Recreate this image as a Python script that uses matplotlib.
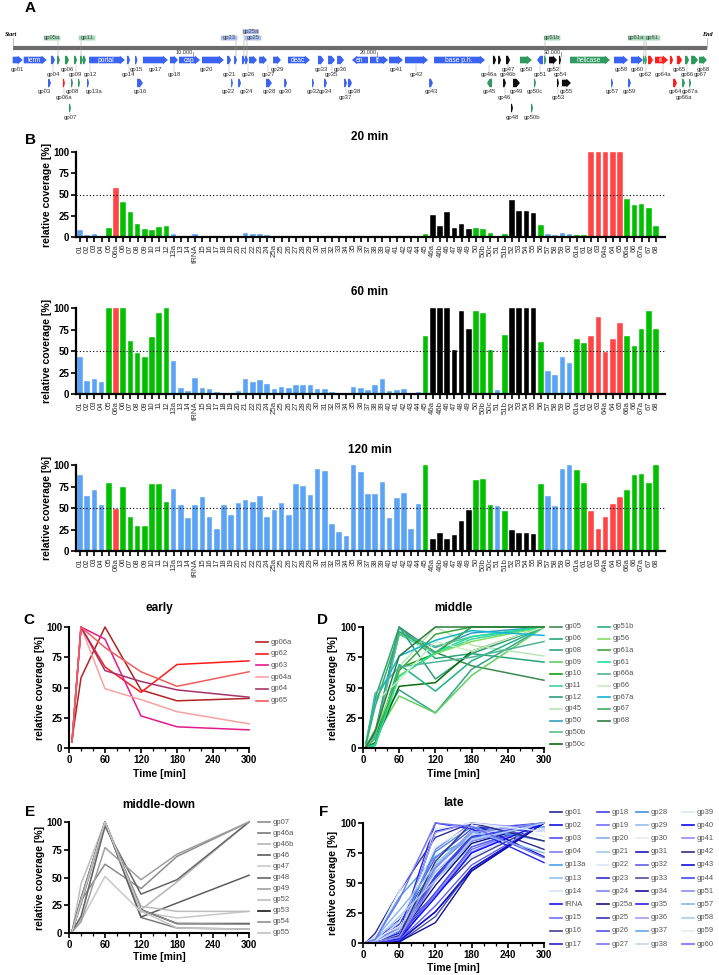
import numpy as np
import matplotlib.pyplot as plt
from matplotlib.patches import Polygon, FancyBboxPatch
from matplotlib.lines import Line2D

plt.rcParams['font.family'] = ['Liberation Sans', 'DejaVu Sans']

W, H = 719, 975

# ---------------- data ----------------
# genome map: (name, start kb, end kb, group, strand, label mode)
genes_row0 = [
    ('gp01', 0.20, 0.75, 'L', 1, 'a'), ('term', 0.80, 2.05, 'L', 1, 'in'),
    ('gp04', 2.28, 2.50, 'L', 1, 'b'), ('gp05a', 2.61, 2.77, 'M', 1, 'up'),
    ('gp06', 3.04, 3.26, 'M', 1, 'a'), ('gp09', 3.53, 3.70, 'M', 1, 'b'),
    ('gp11', 3.86, 4.02, 'M', 1, 'up'), ('gp12', 4.02, 4.18, 'M', 1, 'b'),
    ('portal', 4.35, 6.30, 'L', 1, 'in'), ('gp14', 6.41, 6.58, 'L', 1, 'b'),
    ('gp15', 6.85, 6.98, 'L', 1, 'a'), ('gp17', 7.28, 8.64, 'L', 1, 'a'),
    ('gp18', 8.75, 9.18, 'L', 1, 'b'), ('cap', 9.24, 10.38, 'L', 1, 'in'),
    ('gp20', 10.49, 11.68, 'L', 1, 'a'), ('gp21', 11.85, 12.07, 'L', 1, 'b'),
    ('gp23', 12.23, 12.39, 'L', 1, 'up'), ('gp25a', 12.66, 12.83, 'L', 1, 'up2'),
    ('gp25', 12.83, 12.99, 'L', 1, 'up'), ('gp26', 13.04, 13.48, 'L', 1, 'b'),
    ('gp27', 13.59, 14.02, 'L', 1, 'b'), ('gp29', 14.35, 14.78, 'L', 1, 'a'),
    ('deac', 15.16, 16.36, 'L', 1, 'in'), ('gp33', 16.79, 17.12, 'L', 1, 'a'),
    ('gp35', 17.34, 17.72, 'L', 1, 'b'), ('gp36', 17.83, 18.21, 'L', 1, 'a'),
    ('en', 18.64, 19.51, 'L', -1, 'in'), ('tf', 19.62, 20.60, 'L', 1, 'in'),
    ('gp41', 20.65, 21.41, 'L', 1, 'a'), ('gp42', 21.52, 22.77, 'L', 1, 'b'),
    ('base p.h.', 23.10, 25.87, 'L', 1, 'in'), ('gp46a', 26.30, 26.47, 'D', 1, 'b'),
    ('gp46b', 26.58, 26.74, 'D', 1, 'b'), ('gp47', 27.01, 27.23, 'D', 1, 'a'),
    ('gp50', 27.77, 28.42, 'M', 1, 'a'), ('gp51', 28.70, 29.02, 'L', -1, 'b'),
    ('gp51b', 29.08, 29.20, 'M', 1, 'up'), ('gp52', 29.35, 29.78, 'D', 1, 'a'),
    ('gp54', 29.89, 30.00, 'D', 1, 'b'), ('helicase', 30.49, 32.66, 'M', 1, 'in'),
    ('gp58', 32.88, 33.64, 'L', 1, 'a'), ('gp60', 33.80, 34.46, 'L', 1, 'a'),
    ('gp61a', 34.46, 34.57, 'M', 1, 'up'), ('gp61', 34.57, 34.67, 'M', 1, 'up'),
    ('gp62', 34.73, 35.00, 'E', 1, 'b'), ('rl', 35.11, 35.82, 'E', 1, 'in'),
    ('gp64a', 35.92, 36.09, 'E', 1, 'b'), ('gp65', 36.30, 36.58, 'E', 1, 'a'),
    ('gp66', 36.74, 36.96, 'M', 1, 'b'), ('gp67', 37.07, 37.45, 'M', 1, 'b'),
    ('gp68', 37.50, 37.93, 'M', 1, 'a'),
]
genes_row1 = [
    ('gp03', 2.12, 2.28, 'L', 1, 'a'), ('gp06a', 2.93, 3.04, 'E', 1, 'b'),
    ('gp08', 3.37, 3.48, 'M', 1, 'a'), ('gp10', 3.75, 3.86, 'M', 1, ''),
    ('gp13a', 4.24, 4.35, 'L', 1, 'a'), ('gp16', 6.96, 7.28, 'L', 1, 'a'),
    ('gp22', 12.07, 12.17, 'L', 1, 'a'), ('gp24', 12.45, 12.61, 'L', 1, 'a'),
    ('gp28', 13.97, 14.29, 'L', 1, 'a'), ('gp30', 14.95, 15.11, 'L', 1, 'a'),
    ('gp32', 16.47, 16.58, 'L', 1, 'a'), ('gp34', 17.12, 17.28, 'L', 1, 'a'),
    ('gp37', 18.21, 18.37, 'L', 1, 'b'), ('gp38', 18.42, 18.64, 'L', 1, 'a'),
    ('gp43', 22.83, 23.04, 'L', 1, 'a'), ('gp45', 25.98, 26.25, 'M', -1, 'a'),
    ('gp46', 26.85, 27.01, 'D', 1, 'b'), ('gp49', 27.39, 27.77, 'D', 1, 'a'),
    ('gp50c', 28.53, 28.64, 'M', 1, 'a'), ('gp53', 29.78, 29.89, 'D', 1, 'b'),
    ('gp55', 30.05, 30.54, 'D', 1, 'a'), ('gp57', 32.72, 32.83, 'L', 1, 'a'),
    ('gp59', 33.64, 33.80, 'L', 1, 'a'), ('gp64', 36.09, 36.30, 'E', 1, 'a'),
    ('gp66a', 36.58, 36.74, 'M', 1, 'b'), ('gp67a', 36.96, 37.07, 'M', 1, 'a'),
]
genes_row2 = [
    ('gp07', 3.26, 3.37, 'M', 1, 'a'), ('gp48', 27.28, 27.39, 'D', 1, 'a'),
    ('gp50b', 28.37, 28.48, 'M', 1, 'a'),
]
scale_marks = [10, 20, 30]

# bar charts
bar_labels = ['01', '02', '03', '04', '05', '06a', '06', '07', '08', '09', '10', '11', '12',
              '13a', '13', '14', 'tRNA', '15', '16', '17', '18', '19', '20', '21', '22', '23',
              '24', '25a', '25', '26', '27', '28', '29', '30', '31', '32', '33', '34', '35',
              '36', '37', '38', '39', '40', '41', '42', '43', '44', '45', '46a', '46b', '46',
              '47', '48', '49', '50', '50b', '50c', '51', '51b', '52', '53', '54', '55', '56',
              '57', '58', '59', '60', '61a', '61', '62', '63', '64a', '64', '65', '66a', '66',
              '67a', '67', '68']
# L = late, M = middle, E = early, D = middle-down (same order as bar_labels)
bar_groups = ['L', 'L', 'L', 'L', 'M', 'E', 'M', 'M', 'M', 'M', 'M', 'M', 'M',
              'L', 'L', 'L', 'L', 'L', 'L', 'L', 'L', 'L', 'L', 'L', 'L', 'L',
              'L', 'L', 'L', 'L', 'L', 'L', 'L', 'L', 'L', 'L', 'L', 'L', 'L',
              'L', 'L', 'L', 'L', 'L', 'L', 'L', 'L', 'L', 'M', 'D', 'D', 'D',
              'D', 'D', 'D', 'M', 'M', 'M', 'L', 'M', 'D', 'D', 'D', 'D', 'M',
              'L', 'L', 'L', 'L', 'M', 'M', 'E', 'E', 'E', 'E', 'E', 'M', 'M',
              'M', 'M', 'M']
v20 = [8, 2, 3.5, 1.5, 11, 58, 41, 29, 15, 9, 8, 11.5, 13,
       4, 0, 0, 3, 0, 0, 0, 0, 0, 0, 5, 3.5, 4,
       2, 0.5, 0.3, 1, 1, 1, 1, 0, 0, 0, 0, 0, 0,
       0, 0, 0.5, 1.5, 0, 0, 0.5, 0, 0, 3.5, 26, 13, 29,
       11, 15, 10, 10.5, 9, 4.5, 1, 3.5, 44, 31, 31, 28, 14,
       4, 2, 4.5, 3, 2, 2, 100, 100, 100, 100, 100, 45, 38,
       39, 34, 13.5]
v60 = [43, 15, 18, 14, 100, 100, 100, 62, 48, 43, 66, 94, 100,
       38, 7, 3, 19, 7, 6, 2, 1, 1, 4, 18, 14, 16,
       12, 6, 8.5, 7, 10, 10, 11, 6, 6, 2, 0.5, 1, 8,
       7, 5, 11, 17, 3.5, 5, 6, 1.5, 2.5, 67, 100, 100, 100,
       51, 96, 76, 96, 94, 51, 5, 69, 100, 100, 100, 100, 60,
       27, 22, 43, 36, 64, 59, 67, 90, 49, 64, 83, 67, 56,
       76, 96, 76]
v120 = [88, 64, 71, 54, 79, 49, 74, 40, 29, 29, 78, 78, 57,
        72, 53, 38, 54, 63, 40, 26, 54, 42, 56, 59, 57, 64,
        40, 48, 56, 42, 78, 76, 65, 95, 93, 31, 22, 17, 100,
        92, 66, 66, 80, 38, 62, 68, 26, 55, 100, 14, 21, 14,
        19, 35, 48, 83, 84, 54, 52, 47, 24, 21, 21, 20, 78,
        64, 52, 95, 100, 94, 79, 46, 26, 39, 55, 63, 71, 88,
        89, 79, 100]

# time courses
times = [5, 20, 60, 120, 180, 300]

early_names = ['gp06a', 'gp62', 'gp63', 'gp64a', 'gp64', 'gp65']
early_vals = [[7, 58, 100, 48, 39, 41], [5, 100, 67, 46, 69, 72],
              [5, 100, 90, 26.5, 17.5, 15], [5, 100, 49, 40, 30, 20],
              [5, 100, 64, 55, 48, 42], [5, 100, 83, 63, 51, 63]]

middle_names = ['gp05', 'gp06', 'gp08', 'gp09', 'gp10', 'gp11', 'gp12', 'gp45', 'gp50', 'gp50b',
                'gp50c', 'gp51b', 'gp56', 'gp61a', 'gp61', 'gp66a', 'gp66', 'gp67a', 'gp67', 'gp68']
middle_vals = [[2, 11, 100, 79, 68, 56], [4, 41, 100, 74, 78, 71], [1, 15, 48, 29, 65, 100],
               [1, 9, 43, 29, 60, 100], [1, 8, 66, 78, 100, 100], [1, 11.5, 94, 78, 90, 100],
               [2, 13, 100, 57, 78, 100], [0.5, 3.5, 67, 100, 85, 76], [1, 10.5, 96, 83, 95, 100],
               [1, 9, 94, 84, 92, 100], [0.5, 4.5, 51, 54, 80, 100], [0.5, 3.5, 69, 47, 72, 100],
               [2, 14, 60, 78, 88, 100], [0.5, 2, 64, 94, 100, 100], [0.5, 2, 59, 79, 92, 100],
               [4, 45, 67, 71, 75, 88], [3, 38, 56, 88, 80, 100], [4, 39, 76, 89, 97, 93],
               [3, 34, 96, 79, 100, 100], [1, 13.5, 76, 100, 100, 100]]

mdown_names = ['gp07', 'gp46a', 'gp46b', 'gp46', 'gp47', 'gp48', 'gp49', 'gp52', 'gp53', 'gp54', 'gp55']
mdown_vals = [[1, 29, 62, 40, 69, 100], [1, 26, 100, 14, 4.5, 3.5], [1, 13, 100, 21, 46, 100],
              [1, 29, 100, 14.4, 27, 52], [1, 11, 51, 19, 13.5, 19.5], [1, 15, 96, 35, 48, 100],
              [1, 10, 77, 48, 71, 100], [1, 44, 100, 24, 19.5, 19.5], [1, 31, 100, 21, 8.5, 8.5],
              [1, 31, 100, 21, 8.5, 8], [1, 28, 100, 20, 4.5, 3.5]]

late_names = ['gp01', 'gp02', 'gp03', 'gp04', 'gp13a', 'gp13', 'gp14', 'tRNA', 'gp15', 'gp16', 'gp17',
              'gp18', 'gp19', 'gp20', 'gp21', 'gp22', 'gp23', 'gp24', 'gp25a', 'gp25', 'gp26', 'gp27',
              'gp28', 'gp29', 'gp30', 'gp31', 'gp32', 'gp33', 'gp34', 'gp35', 'gp36', 'gp37', 'gp38',
              'gp39', 'gp40', 'gp41', 'gp42', 'gp43', 'gp44', 'gp51', 'gp57', 'gp58', 'gp59', 'gp60']
late_vals = [[0.5, 8, 43, 88, 100, 78], [0.5, 2, 15, 64, 90, 100], [0.5, 3.5, 18, 71, 95, 100],
             [0.5, 1.5, 14, 54, 85, 100], [0.5, 4, 38, 72, 88, 97], [0.5, 0, 7, 53, 80, 100],
             [0.5, 0, 3, 38, 72, 100], [0.5, 3, 19, 54, 88, 100], [0.5, 0, 7, 63, 92, 100],
             [0.5, 0, 6, 40, 70, 100], [0.5, 0, 2, 26, 60, 100], [0.5, 0, 1, 54, 85, 100],
             [0.5, 0, 1, 42, 78, 100], [0.5, 0, 4, 56, 90, 96], [0.5, 5, 18, 59, 87, 100],
             [0.5, 3.5, 14, 57, 82, 100], [0.5, 4, 16, 64, 93, 100], [0.5, 2, 12, 40, 76, 100],
             [0.5, 0.5, 6, 48, 83, 100], [0.5, 0.3, 8.5, 56, 89, 100], [0.5, 1, 7, 42, 80, 100],
             [0.5, 1, 10, 78, 100, 93], [0.5, 1, 10, 76, 97, 85], [0.5, 1, 11, 65, 90, 100],
             [0.5, 0, 6, 95, 100, 89], [0.5, 0, 6, 93, 100, 72], [0.5, 0, 2, 31, 65, 100],
             [0.5, 0, 0.5, 22, 62, 100], [0.5, 0, 1, 17, 60, 100], [0.5, 0, 8, 100, 95, 67],
             [0.5, 0, 7, 92, 100, 95], [0.5, 0, 5, 66, 92, 100], [0.5, 0.5, 11, 66, 90, 100],
             [0.5, 1.5, 17, 80, 98, 95], [0.5, 0, 3.5, 38, 75, 100], [0.5, 0, 5, 62, 92, 100],
             [0.5, 0.5, 6, 68, 100, 85], [0.5, 0, 1.5, 26, 62, 100], [0.5, 0, 2.5, 55, 88, 100],
             [0.5, 1, 5, 52, 85, 100], [0.5, 4, 27, 64, 93, 75], [0.5, 2, 22, 52, 86, 100],
             [0.5, 4.5, 43, 95, 100, 93], [0.5, 3, 36, 100, 97, 71]]

# ---------------- styles ----------------
bar_colors = {'L': '#5ba3f5', 'M': '#00c000', 'E': '#ff4545', 'D': '#000000'}
map_colors = {'L': '#3b63f2', 'M': '#2e9a5e', 'E': '#ff1c1c', 'D': '#0d0d0d'}
box_colors = {'L': '#aabff2', 'M': '#a3d9b8'}
early_colors = ['#b22222', '#ff1a1a', '#e6198a', '#f7a1a1', '#a8326e', '#f25c5c']
middle_colors = ['#3d8b4f', '#2aa57a', '#35a38a', '#5fd35f', '#12a112', '#3fd3a5', '#2e9e7e',
                 '#b9e6b5', '#2f9fc4', '#5cc08a', '#0a6e0a', '#1fb386', '#7fe05e', '#3ea53e',
                 '#1de0a0', '#4db594', '#c9ecc4', '#12b4d6', '#3fae5e', '#2c7a3e']
mdown_colors = ['#8c8c8c', '#7a7a7a', '#b5b5b5', '#5e5e5e', '#c8c8c8', '#666666', '#9f9f9f',
                '#bdbdbd', '#1a1a1a', '#8f8f8f', '#c4c4c4']
late_colors = ['#2b2b9a', '#1010e0', '#5050f0', '#8080f0', '#4aa0f0', '#90c0f0', '#d0e4f8',
               '#1515ff', '#7070ff', '#404090', '#2020e0', '#4040e8', '#7070ff', '#80b0f0',
               '#a0c8f0', '#d8e8f8', '#3030d0', '#8080f0', '#101080', '#3535c0', '#5050f0',
               '#7878ff', '#4090e0', '#90c0f0', '#e0ecf8', '#1818c8', '#6060f0', '#5050a0',
               '#1010a0', '#2525f0', '#a0a0f8', '#60a8e8', '#c0d8f5', '#dde8f8', '#0a0aff',
               '#9090f0', '#303080', '#1010d0', '#4545f0', '#8f8ff0', '#80b8f0', '#a8cff0',
               '#e0ecf8', '#7070f0']
label_shift = {'gp12': 0.3, 'gp20': -0.33, 'gp26': -0.27, 'gp27': 0.27, 'gp46a': -0.3,
               'gp46b': 0.45, 'gp62': -0.27, 'gp64a': -0.46, 'gp67': 0.3, 'gp03': -0.25,
               'gp13a': 0.33, 'gp22': -0.2, 'gp24': 0.35, 'gp38': 0.27}
box_shift = {'gp05a': -0.35, 'gp11': 0.3, 'gp23': -0.35, 'gp25a': 0.4, 'gp25': 0.35,
             'gp51b': 0.38, 'gp61a': -0.43, 'gp61': 0.33}

fig = plt.figure(figsize=(W / 100, H / 100), dpi=100)


def add_ax(x0, y0, x1, y1):
    return fig.add_axes([x0 / W, 1 - y1 / H, (x1 - x0) / W, (y1 - y0) / H])


def ftext(x, y, s, **kw):
    fig.text(x / W, 1 - y / H, s, **kw)


# ---------------- A: genome map ----------------
axa = add_ax(0, 0, W, 125)
axa.set_xlim(-9 / 18.4, (W - 9) / 18.4)
axa.set_ylim(125, 0)
axa.axis('off')
axa.plot([0.2, 37.95], [48, 48], color='#6b6b6b', lw=3, solid_capstyle='butt')
axa.plot([0.2, 0.2], [38, 48], color='#888888', lw=0.4)
axa.plot([37.95, 37.95], [38, 48], color='#888888', lw=0.4)
axa.text(0.1, 37.5, 'Start', fontsize=4.4, fontweight='bold', style='italic', ha='center',
         va='bottom', family='Liberation Serif')
axa.text(37.95, 37.5, 'End', fontsize=4.4, fontweight='bold', style='italic', ha='center',
         va='bottom', family='Liberation Serif')
for m in scale_marks:
    axa.text(m, 55.5, f'{m}.000', fontsize=4, ha='right', va='bottom', color='#333333')
    axa.plot([m, m], [52, 56], color='#555555', lw=0.4)

row_y = [60, 83, 108]
lab_y = [{'a': 69.5, 'b': 74.5}, {'a': 92, 'b': 98}, {'a': 117, 'b': 117}]

for r, row in enumerate([genes_row0, genes_row1, genes_row2]):
    y = row_y[r]
    for name, s, e, grp, d, tag in row:
        L = e - s
        hl = min(0.28, 0.5 * L)
        bh, hh = (3.3, 4.4) if L > 0.4 else (4.2, 4.2)
        if d > 0:
            pts = [(s, y - bh), (e - hl, y - bh), (e - hl, y - hh), (e, y),
                   (e - hl, y + hh), (e - hl, y + bh), (s, y + bh)]
        else:
            pts = [(e, y - bh), (s + hl, y - bh), (s + hl, y - hh), (s, y),
                   (s + hl, y + hh), (s + hl, y + bh), (e, y + bh)]
        axa.add_patch(Polygon(pts, closed=True, facecolor=map_colors[grp], edgecolor='none'))
        xc = (s + e) / 2
        if tag == 'in':
            axa.text(xc - 0.05, y + 0.3, name, fontsize=4.8, color='white', ha='center',
                     va='center')
        elif tag in ('a', 'b'):
            lx = xc + label_shift.get(name, 0)
            ly = lab_y[r][tag]
            axa.plot([lx, lx], [y + hh + 0.5, ly - 2.5], color='#9a9a9a', lw=0.3)
            axa.text(lx, ly, name, fontsize=4.3, color='#333333', ha='center', va='center')
        elif tag in ('up', 'up2'):
            by = 38 if tag == 'up' else 31.5
            bx = xc + box_shift.get(name, 0)
            axa.plot([xc, xc], [by + 2.5, y - hh], color='#9a9a9a', lw=0.35)
            axa.add_patch(FancyBboxPatch((bx - 0.45, by - 2.5), 0.9, 5.0,
                                         boxstyle='round,pad=0,rounding_size=0.15',
                                         facecolor=box_colors[grp], edgecolor='none'))
            axa.text(bx, by, name, fontsize=4.2, color='#4a4a4a', ha='center', va='center')

# ---------------- B: bar charts ----------------
bar_x = np.arange(len(bar_labels))
colors = [bar_colors[g] for g in bar_groups]
panels_b = [('20 min', v20, 152, 237, 137), ('60 min', v60, 308, 394, 292),
            ('120 min', v120, 465, 551, 450)]
for title, vals, top, bot, ty in panels_b:
    ax = add_ax(76, top, 665, bot)
    ax.bar(bar_x, vals, width=0.78, color=colors, edgecolor='white', linewidth=0.3, clip_on=False)
    ax.axhline(50, color='black', lw=0.8, ls=(0, (1, 2)))
    ax.set_xlim(-0.55, 81.25)
    ax.set_ylim(0, 100)
    ax.set_xticks(bar_x, bar_labels, rotation=90, fontsize=5.6, color='#333333')
    ax.set_yticks([0, 25, 50, 75, 100], ['0', '25', '50', '75', '100'], fontsize=7,
                  fontweight='bold')
    ax.tick_params(axis='x', length=3.5, width=1.2, pad=1.5)
    ax.tick_params(axis='y', length=3.5, width=1.2, pad=1.5)
    for s in ['top', 'right']:
        ax.spines[s].set_visible(False)
    for s in ['left', 'bottom']:
        ax.spines[s].set_linewidth(1.6)
    ftext(370, ty, title, fontsize=8.5, fontweight='bold', ha='center', va='center')
    ftext(47, (top + bot) / 2, 'relative coverage [%]', fontsize=7.5, fontweight='bold',
          rotation=90, ha='center', va='center')


# ---------------- C-F: time courses ----------------
def line_panel(box, names, cols, vals, title, title_y, xlab_y, ylab_x, leg_x, leg_y0, leg_dy,
               nrows, lw=1.1):
    x0, y0, x1, y1 = box
    ax = add_ax(x0, y0, x1, y1)
    for n, c, v in zip(names, cols, vals):
        ax.plot(times, v, color=c, lw=lw, clip_on=False)
    ax.set_xlim(0, 300)
    ax.set_ylim(0, 100)
    ax.set_xticks([0, 60, 120, 180, 240, 300], ['0', '60', '120', '180', '240', '300'],
                  fontsize=7, fontweight='bold')
    ax.set_xticks(np.arange(0, 301, 20), minor=True)
    ax.set_yticks([0, 25, 50, 75, 100], ['0', '25', '50', '75', '100'], fontsize=7,
                  fontweight='bold')
    ax.tick_params(which='major', length=3.5, width=1.2, pad=1.5)
    ax.tick_params(which='minor', length=2, width=0.9)
    for s in ['top', 'right']:
        ax.spines[s].set_visible(False)
    for s in ['left', 'bottom']:
        ax.spines[s].set_linewidth(1.5)
    ftext((x0 + x1) / 2, title_y, title, fontsize=8.5, fontweight='bold', ha='center',
          va='center')
    ftext((x0 + x1) / 2, xlab_y, 'Time [min]', fontsize=7.5, fontweight='bold', ha='center',
          va='center')
    ftext(ylab_x, (y0 + y1) / 2, 'relative coverage [%]', fontsize=7.5, fontweight='bold',
          rotation=90, ha='center', va='center')
    for k, (n, c) in enumerate(zip(names, cols)):
        col, row = divmod(k, nrows)
        lx = leg_x[col]
        ly = leg_y0 + row * leg_dy
        fig.add_artist(Line2D([lx / W, (lx + 12) / W], [1 - ly / H, 1 - ly / H], color=c,
                              lw=1.2))
        ftext(lx + 15, ly, n, fontsize=5.5, color='#555555', ha='left', va='center')


line_panel((69, 627, 249, 748), early_names, early_colors, early_vals, 'early', 608, 774, 40,
           [256], 642, 11.7, 6)
line_panel((363, 627, 544, 748), middle_names, middle_colors, middle_vals, 'middle', 608, 774,
           333, [550, 598], 627, 11.7, 11)
line_panel((69, 822, 249, 933), mdown_names, mdown_colors, mdown_vals, 'middle-down', 805, 957,
           40, [258], 822, 11.1, 11)
line_panel((363, 823, 544, 943), late_names, late_colors, late_vals, 'late', 803, 968, 333,
           [550, 597, 636, 682], 812, 13.2, 11, lw=1.0)

for letter, x, y in [('A', 30, 8), ('B', 30, 140), ('C', 29, 620), ('D', 323, 620),
                     ('E', 30, 812), ('F', 324, 812)]:
    ftext(x, y, letter, fontsize=11, fontweight='bold', ha='center', va='center')

fig.savefig('out.png', dpi=100)
